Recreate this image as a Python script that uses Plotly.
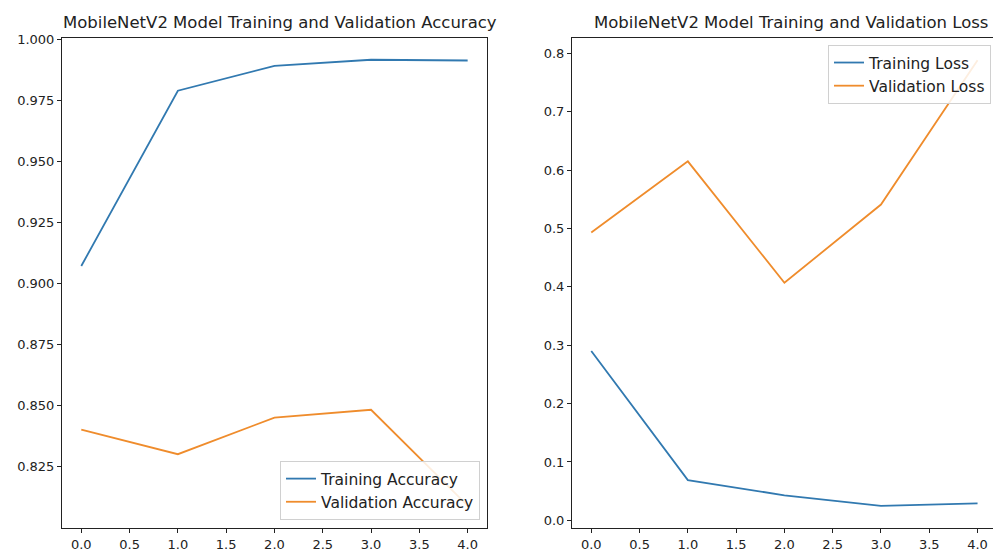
import plotly.graph_objects as go
from plotly.subplots import make_subplots

# ── Data ──────────────────────────────────────────────────────────────────────
epochs = [0, 1, 2, 3, 4]
train_acc = [0.9072, 0.9790, 0.9892, 0.9917, 0.9914]
val_acc = [0.8402, 0.8301, 0.8451, 0.8483, 0.8090]
train_loss = [0.290, 0.069, 0.043, 0.025, 0.029]
val_loss = [0.493, 0.615, 0.407, 0.541, 0.788]

x_ticks = [0.0, 0.5, 1.0, 1.5, 2.0, 2.5, 3.0, 3.5, 4.0]
acc_ticks = [0.825, 0.850, 0.875, 0.900, 0.925, 0.950, 0.975, 1.000]
loss_ticks = [0.0, 0.1, 0.2, 0.3, 0.4, 0.5, 0.6, 0.7, 0.8]

BLUE = "#3179b0"
ORANGE = "#ef8c2c"
FONT = "DejaVu Sans"

fig = make_subplots(rows=1, cols=2)

fig.add_trace(go.Scatter(x=epochs, y=train_acc, name="Training Accuracy", mode="lines",
                         line=dict(color=BLUE, width=1.8), legend="legend"), row=1, col=1)
fig.add_trace(go.Scatter(x=epochs, y=val_acc, name="Validation Accuracy", mode="lines",
                         line=dict(color=ORANGE, width=1.8), legend="legend"), row=1, col=1)
fig.add_trace(go.Scatter(x=epochs, y=train_loss, name="Training Loss", mode="lines",
                         line=dict(color=BLUE, width=1.8), legend="legend2"), row=1, col=2)
fig.add_trace(go.Scatter(x=epochs, y=val_loss, name="Validation Loss", mode="lines",
                         line=dict(color=ORANGE, width=1.8), legend="legend2"), row=1, col=2)

axis_style = dict(showgrid=False, zeroline=False, showline=True, linecolor="#222",
                  linewidth=1, mirror=True, ticks="outside", ticklen=4, tickcolor="#222",
                  automargin=False,
                  tickfont=dict(family=FONT, size=13, color="#222"))

fig.update_xaxes(**axis_style, tickvals=x_ticks, tickformat=".1f")
fig.update_xaxes(domain=[0.0624, 0.4904], range=[-0.2, 4.2], row=1, col=1)
fig.update_xaxes(domain=[0.576, 1.0], range=[-0.2, 4.16], row=1, col=2)

fig.update_yaxes(**axis_style, domain=[0.0486, 0.9315])
fig.update_yaxes(range=[0.79986, 1.0006], tickvals=acc_ticks, tickformat=".3f", row=1, col=1)
fig.update_yaxes(range=[-0.0131, 0.8262], tickvals=loss_ticks, tickformat=".1f", row=1, col=2)

legend_style = dict(bgcolor="rgba(255,255,255,0.85)", bordercolor="#d0d0d0", borderwidth=1,
                    font=dict(family=FONT, size=15.5, color="#222"), tracegroupgap=0)

fig.update_layout(
    width=993, height=555,
    margin=dict(l=0, r=0, t=0, b=0, autoexpand=False),
    plot_bgcolor="white", paper_bgcolor="white",
    font=dict(family=FONT, color="#222"),
    legend=dict(**legend_style, x=0.4834, y=0.063, xanchor="right", yanchor="bottom"),
    legend2=dict(**legend_style, x=0.998, y=0.919, xanchor="right", yanchor="top"),
    annotations=[
        dict(text="MobileNetV2 Model Training and Validation Accuracy", x=0.2815, y=0.960,
             xref="paper", yref="paper", xanchor="center", yanchor="middle", showarrow=False,
             font=dict(family=FONT, size=16.5, color="#222")),
        dict(text="MobileNetV2 Model Training and Validation Loss", x=0.7965, y=0.960,
             xref="paper", yref="paper", xanchor="center", yanchor="middle", showarrow=False,
             font=dict(family=FONT, size=16.5, color="#222")),
    ],
)

# drop the default 8px page margin so the figure sits flush in the window
fig.write_html("out.html", config={"displayModeBar": False},
               post_script="document.body.style.margin='0';document.body.style.overflow='hidden';")
